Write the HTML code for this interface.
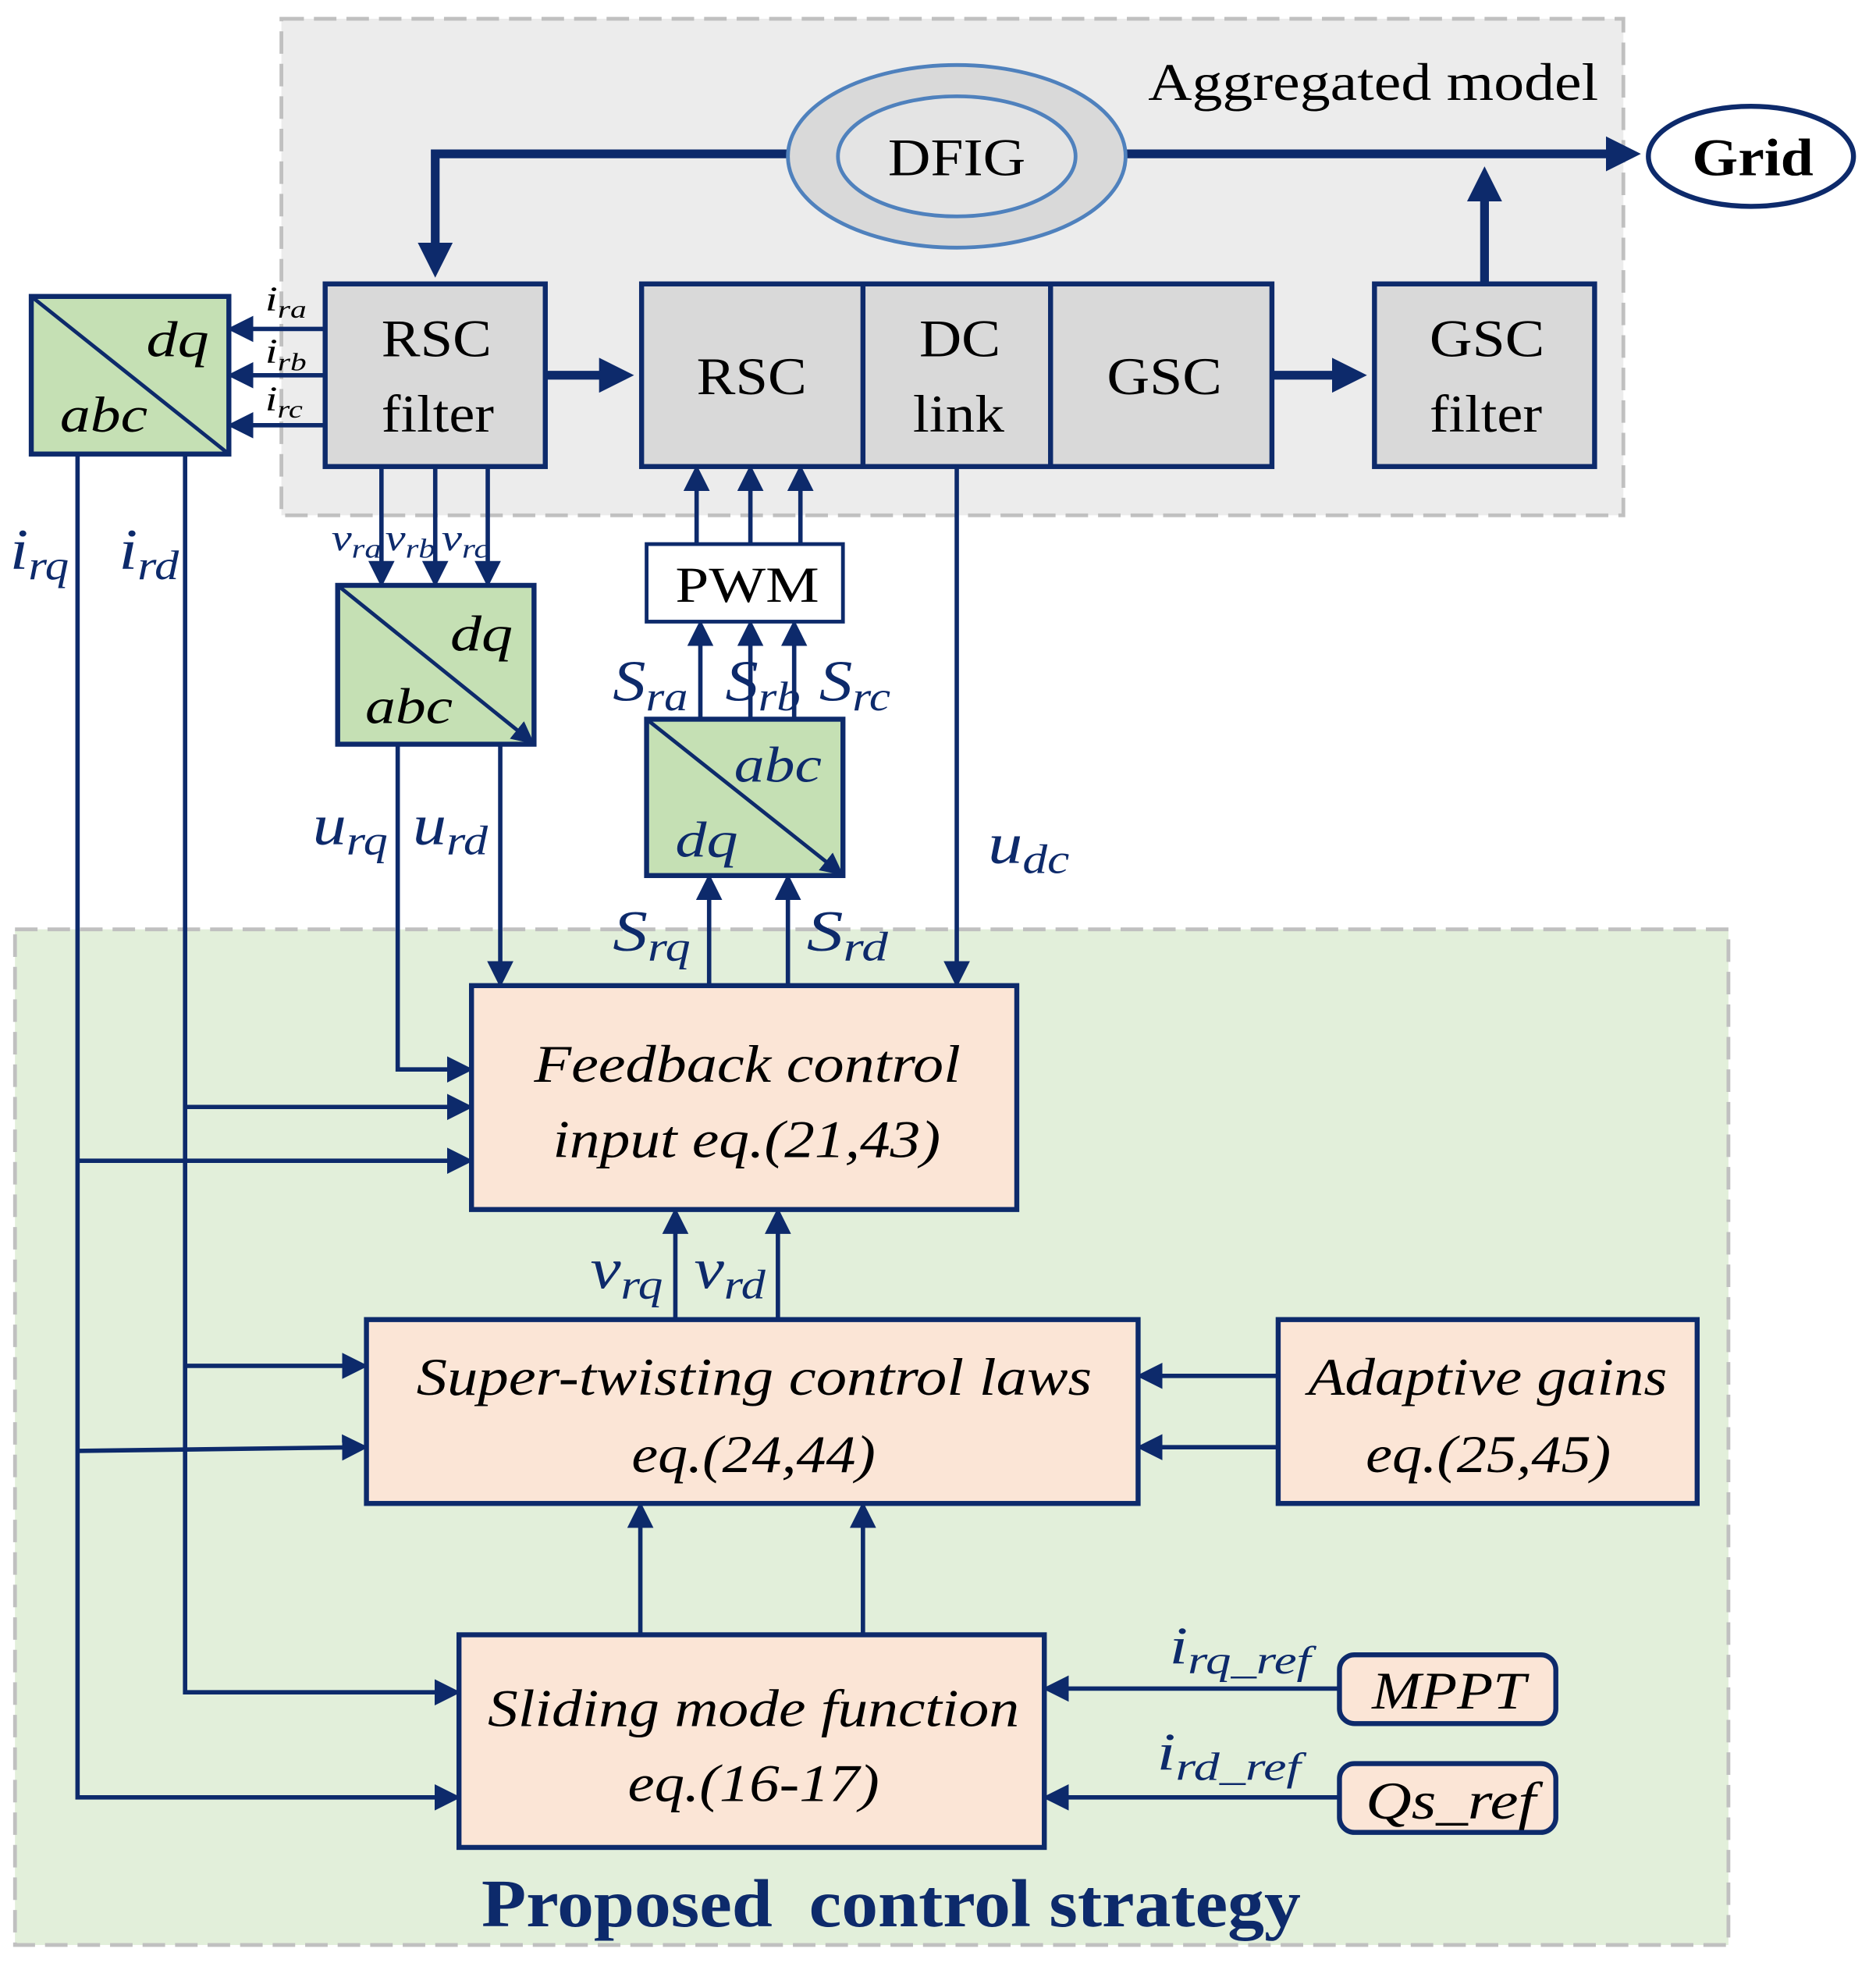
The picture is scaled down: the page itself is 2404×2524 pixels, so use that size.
<!DOCTYPE html>
<html><head><meta charset="utf-8"><style>html,body{margin:0;padding:0;background:#fff}svg{display:block}</style></head>
<body>
<svg width="2404" height="2524" viewBox="0 0 1500 1575" preserveAspectRatio="none" xmlns="http://www.w3.org/2000/svg" font-family="Liberation Serif, serif">
<defs>
<marker id="a" markerWidth="6" markerHeight="6" refX="5" refY="3" orient="auto" markerUnits="strokeWidth"><path d="M0,0 L6,3 L0,6 z" fill="#0d2a6b"/></marker>
<marker id="b" markerWidth="4" markerHeight="4" refX="3" refY="2" orient="auto" markerUnits="strokeWidth"><path d="M0,0 L4,2 L0,4 z" fill="#0d2a6b"/></marker>
</defs>
<rect x="225" y="15" width="1073" height="397" fill="#ececec" stroke="#c0c0c0" stroke-width="3" stroke-dasharray="18,8"/>
<rect x="12" y="743" width="1370" height="812" fill="#e2efda" stroke="#c0c0c0" stroke-width="3" stroke-dasharray="18,8"/>
<text x="918" y="80" font-size="42" textLength="360" lengthAdjust="spacingAndGlyphs">Aggregated model</text>
<g stroke="#0d2a6b" stroke-width="7" fill="none">
<path d="M670,123 H348 V215" marker-end="url(#b)"/>
<path d="M900,123 H1305" marker-end="url(#b)"/>
<path d="M1187,227 V140" marker-end="url(#b)"/>
<path d="M436,300 H500" marker-end="url(#b)"/>
<path d="M1017,300 H1086" marker-end="url(#b)"/>
</g>
<ellipse cx="765" cy="125" rx="135" ry="73" fill="#d9d9d9" stroke="#4f81bd" stroke-width="3"/>
<ellipse cx="765" cy="125" rx="95" ry="48" fill="#e4e4e4" stroke="#4f81bd" stroke-width="3"/>
<text x="710" y="140" font-size="42" textLength="110" lengthAdjust="spacingAndGlyphs">DFIG</text>
<ellipse cx="1400" cy="125" rx="82" ry="40" fill="#fff" stroke="#0d2a6b" stroke-width="4"/>
<text x="1353" y="140" font-size="42" font-weight="bold" textLength="97" lengthAdjust="spacingAndGlyphs">Grid</text>
<g fill="#d9d9d9" stroke="#0d2a6b" stroke-width="4">
<rect x="260" y="227" width="176" height="146"/>
<rect x="513" y="227" width="504" height="146"/>
<rect x="1099" y="227" width="176" height="146"/>
</g>
<g stroke="#0d2a6b" stroke-width="4"><line x1="690" y1="227" x2="690" y2="373"/><line x1="840" y1="227" x2="840" y2="373"/></g>
<g font-size="42" lengthAdjust="spacingAndGlyphs">
<text x="305" y="285" textLength="88" lengthAdjust="spacingAndGlyphs">RSC</text><text x="305" y="345" textLength="90" lengthAdjust="spacingAndGlyphs">filter</text>
<text x="557" y="315" textLength="88" lengthAdjust="spacingAndGlyphs">RSC</text>
<text x="735" y="285" textLength="65" lengthAdjust="spacingAndGlyphs">DC</text><text x="730" y="345" textLength="73" lengthAdjust="spacingAndGlyphs">link</text>
<text x="885" y="315" textLength="92" lengthAdjust="spacingAndGlyphs">GSC</text>
<text x="1143" y="285" textLength="92" lengthAdjust="spacingAndGlyphs">GSC</text><text x="1143" y="345" textLength="90" lengthAdjust="spacingAndGlyphs">filter</text>
</g>
<g fill="#c5e0b4" stroke="#0d2a6b" stroke-width="4">
<rect x="25" y="237" width="158" height="126"/>
<rect x="270" y="468" width="157" height="127"/>
<rect x="517" y="575" width="157" height="125"/>
</g>
<g stroke="#0d2a6b" stroke-width="3" fill="none">
<line x1="25" y1="237" x2="183" y2="363"/>
<path d="M270,468 L425,593" marker-end="url(#a)"/>
<path d="M517,575 L672,698" marker-end="url(#a)"/>
</g>
<g font-size="40" font-style="italic">
<text x="117" y="285" textLength="50" lengthAdjust="spacingAndGlyphs">dq</text><text x="48" y="345" textLength="70" lengthAdjust="spacingAndGlyphs">abc</text>
<text x="360" y="520" textLength="50" lengthAdjust="spacingAndGlyphs">dq</text><text x="292" y="578" textLength="70" lengthAdjust="spacingAndGlyphs">abc</text>
<text x="587" y="625" fill="#0d2a6b" textLength="70" lengthAdjust="spacingAndGlyphs">abc</text><text x="540" y="685" fill="#0d2a6b" textLength="50" lengthAdjust="spacingAndGlyphs">dq</text>
</g>
<g stroke="#0d2a6b" stroke-width="3.5" fill="none">
<path d="M260,263 H185" marker-end="url(#a)"/>
<path d="M260,300 H185" marker-end="url(#a)"/>
<path d="M260,340 H185" marker-end="url(#a)"/>
<path d="M305,373 V466" marker-end="url(#a)"/>
<path d="M348,373 V466" marker-end="url(#a)"/>
<path d="M390,373 V466" marker-end="url(#a)"/>
<path d="M557,435 V375" marker-end="url(#a)"/>
<path d="M600,435 V375" marker-end="url(#a)"/>
<path d="M640,435 V375" marker-end="url(#a)"/>
<path d="M560,575 V499" marker-end="url(#a)"/>
<path d="M600,575 V499" marker-end="url(#a)"/>
<path d="M635,575 V499" marker-end="url(#a)"/>
<path d="M567,788 V702" marker-end="url(#a)"/>
<path d="M630,788 V702" marker-end="url(#a)"/>
<path d="M765,373 V786" marker-end="url(#a)"/>
<path d="M318,595 V855 H375" marker-end="url(#a)"/>
<path d="M400,595 V786" marker-end="url(#a)"/>
<path d="M148,363 V1353 H365" marker-end="url(#a)"/>
<path d="M62,363 V1437 H365" marker-end="url(#a)"/>
<path d="M148,885 H375" marker-end="url(#a)"/>
<path d="M62,928 H375" marker-end="url(#a)"/>
<path d="M148,1092 H291" marker-end="url(#a)"/>
<path d="M62,1160 L291,1157" marker-end="url(#a)"/>
<path d="M540,1055 V969" marker-end="url(#a)"/>
<path d="M622,1055 V969" marker-end="url(#a)"/>
<path d="M1022,1100 H912" marker-end="url(#a)"/>
<path d="M1022,1157 H912" marker-end="url(#a)"/>
<path d="M512,1307 V1204" marker-end="url(#a)"/>
<path d="M690,1307 V1204" marker-end="url(#a)"/>
<path d="M1071,1350 H837" marker-end="url(#a)"/>
<path d="M1071,1437 H837" marker-end="url(#a)"/>
</g>
<rect x="517" y="435" width="157" height="62" fill="#fff" stroke="#0d2a6b" stroke-width="3"/>
<text x="540" y="481" font-size="40" textLength="115" lengthAdjust="spacingAndGlyphs">PWM</text>
<g fill="#fbe5d6" stroke="#0d2a6b" stroke-width="4">
<rect x="377" y="788" width="436" height="179"/>
<rect x="293" y="1055" width="617" height="147"/>
<rect x="1022" y="1055" width="335" height="147"/>
<rect x="367" y="1307" width="468" height="170"/>
<rect x="1071" y="1323" width="173" height="55" rx="12"/>
<rect x="1071" y="1410" width="173" height="55" rx="12"/>
</g>
<g font-size="42" font-style="italic">
<text x="427" y="865" textLength="341" lengthAdjust="spacingAndGlyphs">Feedback control</text><text x="442" y="925" textLength="310" lengthAdjust="spacingAndGlyphs">input eq.(21,43)</text>
<text x="333" y="1115" textLength="540" lengthAdjust="spacingAndGlyphs">Super-twisting control laws</text><text x="505" y="1177" textLength="195" lengthAdjust="spacingAndGlyphs">eq.(24,44)</text>
<text x="1046" y="1115" textLength="287" lengthAdjust="spacingAndGlyphs">Adaptive gains</text><text x="1092" y="1177" textLength="196" lengthAdjust="spacingAndGlyphs">eq.(25,45)</text>
<text x="390" y="1380" textLength="425" lengthAdjust="spacingAndGlyphs">Sliding mode function</text><text x="502" y="1440" textLength="201" lengthAdjust="spacingAndGlyphs">eq.(16-17)</text>
<text x="1097" y="1366" textLength="123" lengthAdjust="spacingAndGlyphs">MPPT</text><text x="1092" y="1454" textLength="136" lengthAdjust="spacingAndGlyphs">Qs_ref</text>
</g>
<g font-style="italic" fill="#0d2a6b">
<text x="212" y="248" font-size="28" fill="#000" textLength="33" lengthAdjust="spacingAndGlyphs">i<tspan font-size="20" dy="6">ra</tspan></text>
<text x="212" y="290" font-size="28" fill="#000" textLength="33" lengthAdjust="spacingAndGlyphs">i<tspan font-size="20" dy="6">rb</tspan></text>
<text x="212" y="328" font-size="28" fill="#000" textLength="30" lengthAdjust="spacingAndGlyphs">i<tspan font-size="20" dy="6">rc</tspan></text>
<text x="265" y="440" font-size="30" textLength="40" lengthAdjust="spacingAndGlyphs">v<tspan font-size="22" dy="6">ra</tspan></text>
<text x="308" y="440" font-size="30" textLength="40" lengthAdjust="spacingAndGlyphs">v<tspan font-size="22" dy="6">rb</tspan></text>
<text x="353" y="440" font-size="30" textLength="38" lengthAdjust="spacingAndGlyphs">v<tspan font-size="22" dy="6">rc</tspan></text>
<text x="8" y="455" font-size="46" textLength="47" lengthAdjust="spacingAndGlyphs">i<tspan font-size="33" dy="8">rq</tspan></text>
<text x="95" y="455" font-size="46" textLength="48" lengthAdjust="spacingAndGlyphs">i<tspan font-size="33" dy="8">rd</tspan></text>
<text x="250" y="675" font-size="46" textLength="60" lengthAdjust="spacingAndGlyphs">u<tspan font-size="33" dy="8">rq</tspan></text>
<text x="330" y="675" font-size="46" textLength="60" lengthAdjust="spacingAndGlyphs">u<tspan font-size="33" dy="8">rd</tspan></text>
<text x="490" y="560" font-size="46" textLength="60" lengthAdjust="spacingAndGlyphs">S<tspan font-size="33" dy="8">ra</tspan></text>
<text x="580" y="560" font-size="46" textLength="60" lengthAdjust="spacingAndGlyphs">S<tspan font-size="33" dy="8">rb</tspan></text>
<text x="655" y="560" font-size="46" textLength="57" lengthAdjust="spacingAndGlyphs">S<tspan font-size="33" dy="8">rc</tspan></text>
<text x="490" y="760" font-size="46" textLength="62" lengthAdjust="spacingAndGlyphs">S<tspan font-size="33" dy="8">rq</tspan></text>
<text x="645" y="760" font-size="46" textLength="65" lengthAdjust="spacingAndGlyphs">S<tspan font-size="33" dy="8">rd</tspan></text>
<text x="790" y="690" font-size="46" textLength="65" lengthAdjust="spacingAndGlyphs">u<tspan font-size="33" dy="8">dc</tspan></text>
<text x="472" y="1030" font-size="46" textLength="58" lengthAdjust="spacingAndGlyphs">v<tspan font-size="33" dy="8">rq</tspan></text>
<text x="555" y="1030" font-size="46" textLength="57" lengthAdjust="spacingAndGlyphs">v<tspan font-size="33" dy="8">rd</tspan></text>
<text x="935" y="1330" font-size="42" textLength="113" lengthAdjust="spacingAndGlyphs">i<tspan font-size="32" dy="8">rq_ref</tspan></text>
<text x="925" y="1415" font-size="42" textLength="115" lengthAdjust="spacingAndGlyphs">i<tspan font-size="32" dy="8">rd_ref</tspan></text>
</g>
<text x="385" y="1540" font-size="54" font-weight="bold" fill="#0d2a6b" xml:space="preserve" textLength="655" lengthAdjust="spacingAndGlyphs">Proposed  control strategy</text>
</svg>
</body></html>
